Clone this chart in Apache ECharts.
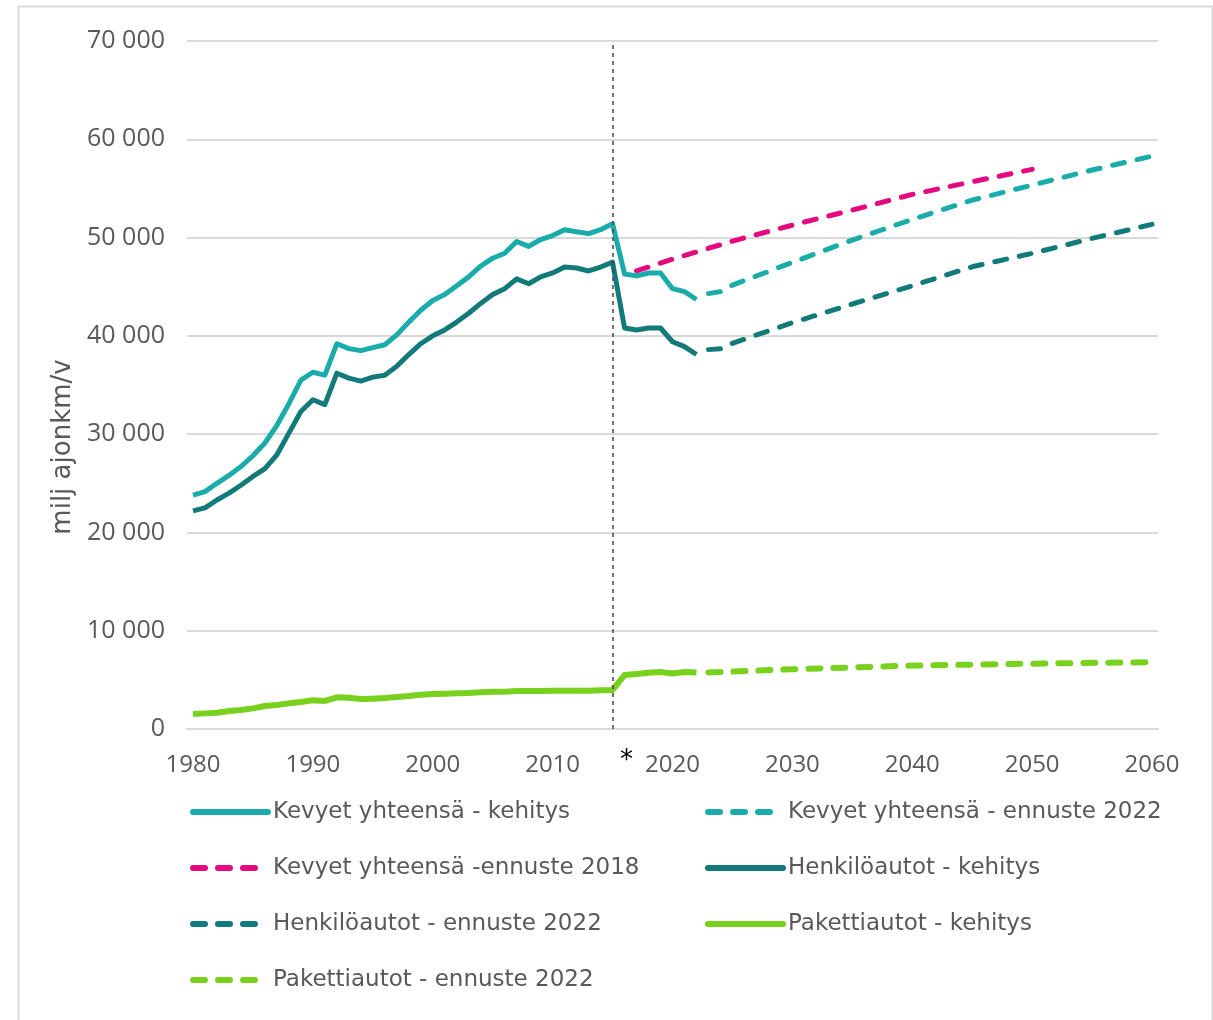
<!DOCTYPE html>
<html>
<head>
<meta charset="utf-8">
<title>Kevyet ajoneuvot - ajosuorite</title>
<script src="https://cdn.jsdelivr.net/npm/echarts@6/dist/echarts.min.js"></script>
<style>
  html, body { margin: 0; padding: 0; background: #fff; }
  #main { width: 1213px; height: 1020px; }
</style>
</head>
<body>
<div id="main"></div>
<script>
// vuodet 1980-2060 (kategoria-akseli)
const years = [];
for (let y = 1980; y <= 2060; y++) years.push(String(y));

// toteutunut kehitys 1980-2022, milj ajonkm/v
const kevyetKehitys = [
  23800, 24150, 25000, 25800, 26700, 27800, 29100, 30900, 33100, 35500,
  36300, 36000, 39200, 38700, 38500, 38800, 39100, 40100, 41400, 42600,
  43600, 44200, 45100, 46000, 47100, 47900, 48400, 49600, 49100, 49800,
  50200, 50800, 50600, 50400, 50800, 51400, 46300, 46100, 46400, 46400,
  44800, 44500, 43700
];
const henkiloKehitys = [
  22200, 22500, 23300, 24000, 24800, 25700, 26500, 27900, 30100, 32300,
  33500, 33000, 36200, 35700, 35400, 35800, 36000, 36900, 38100, 39200,
  40000, 40600, 41400, 42300, 43300, 44200, 44800, 45800, 45300, 46000,
  46400, 47000, 46900, 46600, 47000, 47500, 40800, 40600, 40800, 40800,
  39400, 38900, 38100
];
const pakettiKehitys = [
  1530, 1590, 1660, 1830, 1930, 2100, 2340, 2440, 2610, 2750,
  2920, 2850, 3220, 3190, 3050, 3090, 3150, 3260, 3360, 3490,
  3560, 3590, 3630, 3660, 3730, 3800, 3800, 3870, 3870, 3870,
  3900, 3900, 3900, 3900, 3930, 3970, 5490, 5600, 5730, 5800,
  5650, 5800, 5750
];

// ennusteet [vuosi, arvo]
const kevyetEnnuste2022 = [
  [2023, 44300], [2024, 44500], [2025, 45170], [2030, 47470], [2035, 49750],
  [2040, 51850], [2045, 53810], [2050, 55340], [2055, 56870], [2060, 58290]
];
const kevyetEnnuste2018 = [
  [2017, 46600], [2020, 47800], [2025, 49640], [2030, 51270],
  [2035, 52800], [2040, 54390], [2045, 55680], [2050, 56940]
];
const henkiloEnnuste2022 = [
  [2023, 38600], [2024, 38700], [2025, 39240], [2030, 41340], [2035, 43240],
  [2040, 45100], [2045, 47030], [2050, 48390], [2055, 49920], [2060, 51340]
];
const pakettiEnnuste2022 = [
  [2023, 5750], [2030, 6080], [2040, 6450], [2050, 6650], [2060, 6800]
];

const yTicks = [0, 10000, 20000, 30000, 40000, 50000, 60000, 70000];

const cKevyet = '#1aabab';
const cHenkilo = '#127b7a';
const cPink = '#e5097f';
const cGreen = '#78d11c';
const grey = '#595959';

const fmt = v => String(v).replace(/\B(?=(\d{3})+(?!\d))/g, ' ');
const pairs = arr => arr.map(p => [String(p[0]), p[1]]);

function solid(name, data, color, width) {
  return {
    name: name, type: 'line', data: data, symbol: 'none',
    itemStyle: { color: color },
    lineStyle: { color: color, width: width, join: 'round' }
  };
}
function dashed(name, data, color, width) {
  return {
    name: name, type: 'line', data: pairs(data), symbol: 'none',
    itemStyle: { color: color },
    lineStyle: { color: color, width: width, type: [12, 13], cap: 'round' }
  };
}

const chart = echarts.init(document.getElementById('main'));

const legendBase = {
  orient: 'vertical', top: 800, padding: 0,
  itemWidth: 75, itemHeight: 20, itemGap: 32,
  itemStyle: { opacity: 0 },
  lineStyle: { width: 6, cap: 'round' },
  textStyle: { color: grey, fontSize: 23, fontFamily: 'DejaVu Sans', lineHeight: 24 }
};

const kevyet = solid('Kevyet yhteensä - kehitys', kevyetKehitys, cKevyet, 5);
kevyet.markLine = {
  silent: true,
  symbol: 'none',
  lineStyle: { color: '#444', width: 1.5, type: [4, 4] },
  label: {
    formatter: '*', position: 'start', color: '#000',
    fontSize: 26, fontFamily: 'DejaVu Sans', offset: [14, 14]
  },
  data: [{ xAxis: 35.4 }]
};

chart.setOption({
  animation: false,
  backgroundColor: '#fff',
  graphic: [{
    type: 'rect', left: 16, top: 4,
    shape: { width: 1194, height: 1040 },
    style: { fill: 'none', stroke: '#d9d9d9', lineWidth: 2 },
    silent: true
  }],
  grid: { left: 187, right: 55, top: 41, bottom: 291 },
  legend: [
    Object.assign({}, legendBase, {
      left: 190,
      data: ['Kevyet yhteensä - kehitys', 'Kevyet yhteensä -ennuste 2018',
             'Henkilöautot - ennuste 2022', 'Pakettiautot - ennuste 2022']
    }),
    Object.assign({}, legendBase, {
      left: 705,
      data: ['Kevyet yhteensä - ennuste 2022', 'Henkilöautot - kehitys', 'Pakettiautot - kehitys']
    })
  ],
  xAxis: {
    type: 'category',
    data: years,
    boundaryGap: true,
    axisLine: { lineStyle: { color: '#d9d9d9', width: 2 } },
    axisTick: { show: false },
    axisLabel: {
      interval: i => i % 10 === 0,
      color: grey, fontSize: 24, fontFamily: 'Open Sans', margin: 24
    }
  },
  yAxis: {
    type: 'value',
    min: yTicks[0], max: yTicks[yTicks.length - 1], interval: 10000,
    name: 'milj ajonkm/v',
    nameLocation: 'middle', nameRotate: 90, nameGap: 111,
    nameTextStyle: { color: grey, fontSize: 26, fontFamily: 'DejaVu Sans', padding: [0, 124, 0, 0] },
    axisLine: { show: false },
    axisTick: { show: false },
    splitLine: { lineStyle: { color: '#d9d9d9', width: 2 } },
    axisLabel: { formatter: fmt, color: grey, fontSize: 25, fontFamily: 'Open Sans', margin: 22 }
  },
  series: [
    dashed('Kevyet yhteensä -ennuste 2018', kevyetEnnuste2018, cPink, 5),
    dashed('Pakettiautot - ennuste 2022', pakettiEnnuste2022, cGreen, 6),
    solid('Pakettiautot - kehitys', pakettiKehitys, cGreen, 6),
    dashed('Henkilöautot - ennuste 2022', henkiloEnnuste2022, cHenkilo, 5),
    solid('Henkilöautot - kehitys', henkiloKehitys, cHenkilo, 5),
    dashed('Kevyet yhteensä - ennuste 2022', kevyetEnnuste2022, cKevyet, 5),
    kevyet
  ]
});
</script>
</body>
</html>
